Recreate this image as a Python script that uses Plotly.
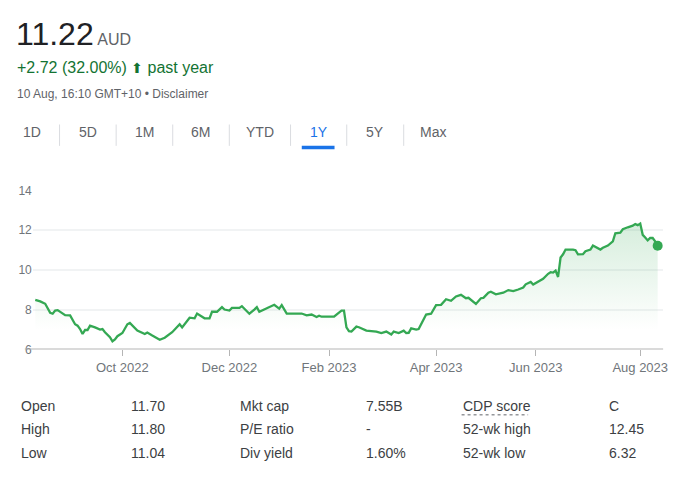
import plotly.graph_objects as go
import pandas as pd

W, H = 682, 484


def px(x):
    return x / W


def py(y):
    return 1 - y / H


# ---------------- data ----------------
price = "11.22"
currency = "AUD"
change_text = "+2.72 (32.00%)"
period_text = "past year"
timestamp = "10 Aug, 16:10 GMT+10 • Disclaimer"
tabs = ["1D", "5D", "1M", "6M", "YTD", "1Y", "5Y", "Max"]
active_tab = "1Y"

# ASX trading calendar (x axis runs over trading sessions)
first_day, last_day = "2022-08-10", "2023-08-10"
holidays = ["2022-09-22", "2022-12-26", "2022-12-27", "2023-01-02", "2023-01-26",
            "2023-04-07", "2023-04-10", "2023-04-25", "2023-06-12"]

# readings of the close line: session number -> close (AUD)
session = [2, 4, 6, 7, 8, 9, 10, 11, 13, 14, 16, 17, 18, 19, 20, 21, 22, 23, 24, 26,
           27, 28, 29, 30, 32, 33, 34, 35, 37, 38, 39, 40, 42, 43, 46, 47, 49, 52, 54, 57,
           60, 61, 64, 66, 67, 70, 72, 73, 75, 77, 78, 80, 81, 84, 85, 88, 90, 91, 92, 94,
           97, 98, 100, 101, 103, 109, 111, 113, 115, 116, 117, 122, 123, 125, 126, 127, 128, 129, 131, 132,
           135, 139, 141, 143, 145, 146, 148, 150, 151, 152, 153, 155, 156, 158, 159, 161, 163, 165, 167, 169,
           171, 173, 175, 176, 178, 179, 181, 182, 184, 185, 187, 188, 190, 192, 194, 196, 198, 199, 201, 202,
           204, 206, 208, 209, 210, 211, 212, 213, 214, 215, 218, 219, 220, 222, 223, 225, 226, 227, 229, 230,
           232, 234, 235, 237, 238, 240, 242, 243, 244, 245, 246, 247, 248, 249, 250, 251, 252]
close = [8.50, 8.42, 8.30, 8.09, 7.85, 7.80, 7.96, 7.98, 7.81, 7.73, 7.72, 7.52, 7.27, 7.20, 7.03, 6.78, 6.98, 6.98, 7.20, 7.11,
         7.06, 7.00, 7.03, 6.87, 6.62, 6.41, 6.51, 6.67, 6.83, 7.03, 7.27, 7.34, 7.11, 6.95, 6.78, 6.85, 6.70, 6.49, 6.59, 6.87,
         7.27, 7.11, 7.60, 7.57, 7.81, 7.57, 7.57, 7.90, 7.90, 8.13, 8.01, 7.96, 8.09, 8.09, 8.18, 7.80, 8.01, 8.13, 7.90, 8.01,
         8.21, 8.25, 8.06, 8.23, 7.81, 7.81, 7.72, 7.76, 7.64, 7.70, 7.65, 7.65, 7.76, 7.96, 7.96, 7.11, 6.92, 6.90, 7.15, 7.12,
         6.95, 6.90, 6.83, 6.90, 6.75, 6.90, 6.83, 6.95, 6.83, 6.84, 7.06, 7.00, 7.03, 7.52, 7.76, 7.80, 8.23, 8.25, 8.53, 8.45,
         8.67, 8.75, 8.58, 8.60, 8.37, 8.29, 8.58, 8.60, 8.86, 8.91, 8.78, 8.80, 8.86, 8.99, 8.94, 9.02, 9.12, 9.28, 9.40, 9.27,
         9.40, 9.56, 9.81, 9.89, 9.87, 9.97, 9.65, 10.63, 10.79, 11.03, 11.03, 11.00, 10.79, 10.80, 10.95, 11.03, 11.23, 11.17, 11.03, 11.12,
         11.23, 11.44, 11.85, 11.88, 12.05, 12.15, 12.23, 12.31, 12.26, 12.34, 11.77, 11.64, 11.49, 11.61, 11.61, 11.44, 11.22]

month_starts = ["2022-10-01", "2022-12-01", "2023-02-01", "2023-04-01", "2023-06-01", "2023-08-01"]
month_labels = ["Oct 2022", "Dec 2022", "Feb 2023", "Apr 2023", "Jun 2023", "Aug 2023"]
y_ticks = [6, 8, 10, 12, 14]

stat_labels = [["Open", "High", "Low"],
               ["Mkt cap", "P/E ratio", "Div yield"],
               ["CDP score", "52-wk high", "52-wk low"]]
stat_values = [["11.70", "11.80", "11.04"],
               ["7.55B", "-", "1.60%"],
               ["C", "12.45", "6.32"]]

# ---------------- calendar -> tick positions ----------------
days = pd.bdate_range(first_day, last_day)
days = days[~days.isin(pd.to_datetime(holidays))]
tick_vals = [int((days < pd.Timestamp(m)).sum()) for m in month_starts]

GREEN = "#34a853"
TEXT_GREEN = "#137333"
GRAY = "#70757a"
DARK = "#202124"
FONT = "Arial, Liberation Sans, sans-serif"

fig = go.Figure()
fig.add_trace(go.Scatter(
    x=session, y=close, mode="lines",
    line=dict(color=GREEN, width=2.3),
    fill="tozeroy",
    fillgradient=dict(type="vertical",
                      colorscale=[[0, "rgba(52,168,83,0)"], [1, "rgba(52,168,83,0.2)"]],
                      start=7.2, stop=12.4),
    hoverinfo="skip", showlegend=False,
))
fig.add_trace(go.Scatter(
    x=[session[-1]], y=[close[-1]], mode="markers",
    marker=dict(color=GREEN, size=10), hoverinfo="skip", showlegend=False,
))

x_left_px, x_right_px = 33, 668
x0_px, slope = 30.5, 2.508
fig.update_layout(
    width=W, height=H,
    margin=dict(l=0, r=0, t=0, b=0, pad=0),
    paper_bgcolor="white", plot_bgcolor="white",
    font=dict(family=FONT, color=GRAY),
    xaxis=dict(domain=[px(x_left_px), px(x_right_px)],
               range=[(x_left_px - x0_px) / slope, (x_right_px - x0_px) / slope],
               tickvals=tick_vals, ticktext=month_labels,
               ticks="outside", ticklen=6, tickcolor="#b5b5b5", tickwidth=1,
               showgrid=False, zeroline=False, showline=False,
               tickfont=dict(size=13, color=GRAY, family=FONT)),
    yaxis=dict(domain=[py(352.7), py(189)], range=[6, 14],
               tickvals=y_ticks, ticks="", showgrid=True,
               gridcolor="#f1f3f4", gridwidth=1.5, zeroline=False, showline=False,
               tickfont=dict(size=12, color=GRAY, family=FONT)),
)

shapes = []
# baseline
shapes.append(dict(type="line", xref="paper", yref="y", x0=px(25), x1=px(668), y0=6, y1=6,
                   line=dict(color="#b5b5b5", width=2)))
# tab separators
for sx in [60, 117, 174, 231, 292.7, 349.3, 406.7]:
    shapes.append(dict(type="line", xref="paper", yref="paper", x0=px(sx), x1=px(sx),
                       y0=py(121), y1=py(143), line=dict(color="#dadce0", width=1)))
# active tab underline
shapes.append(dict(type="rect", xref="paper", yref="paper", x0=px(304), x1=px(337),
                   y0=py(146.5), y1=py(143), fillcolor="#1a73e8", line=dict(width=0)))
# dotted underline of CDP score
shapes.append(dict(type="line", xref="paper", yref="paper", x0=px(465), x1=px(532),
                   y0=py(420), y1=py(420), line=dict(color="#5f6368", width=1, dash="dot")))

ann = []
ann.append(dict(x=px(14), y=py(28), xref="paper", yref="paper", xanchor="left", yanchor="middle",
                showarrow=False,
                text=f"<span style='font-size:32px;color:{DARK}'>{price}</span>"
                     f"<span style='font-size:16px;color:#5f6368'> {currency}</span>",
                font=dict(family=FONT, size=32, color=DARK)))
ann.append(dict(x=px(15), y=py(62), xref="paper", yref="paper", xanchor="left", yanchor="middle",
                showarrow=False,
                text=f"{change_text} <span style='font-family:DejaVu Sans;font-size:14px'>⬆</span> {period_text}",
                font=dict(family=FONT, size=16, color=TEXT_GREEN)))
ann.append(dict(x=px(15), y=py(89.5), xref="paper", yref="paper", xanchor="left", yanchor="middle",
                showarrow=False, text=timestamp, font=dict(family=FONT, size=12, color="#5f6368")))

tab_centers = [32, 89, 146, 202, 262, 321.7, 378, 436.7]
for t, cx in zip(tabs, tab_centers):
    ann.append(dict(x=px(cx), y=py(129), xref="paper", yref="paper", xanchor="center", yanchor="middle",
                    showarrow=False, text=t,
                    font=dict(family=FONT, size=14, color="#1a73e8" if t == active_tab else "#5f6368")))

label_x = [19, 240, 464]
value_x = [130, 367, 611]
row_y = [411, 435, 459]
for c in range(3):
    for r in range(3):
        ann.append(dict(x=px(label_x[c]), y=py(row_y[r]), xref="paper", yref="paper",
                        xanchor="left", yanchor="middle", showarrow=False, text=stat_labels[c][r],
                        font=dict(family=FONT, size=14, color="#3c4043")))
        ann.append(dict(x=px(value_x[c]), y=py(row_y[r]), xref="paper", yref="paper",
                        xanchor="left", yanchor="middle", showarrow=False, text=stat_values[c][r],
                        font=dict(family=FONT, size=14, color="#3c4043")))

fig.update_layout(shapes=shapes, annotations=ann)
fig.write_html("out.html")
